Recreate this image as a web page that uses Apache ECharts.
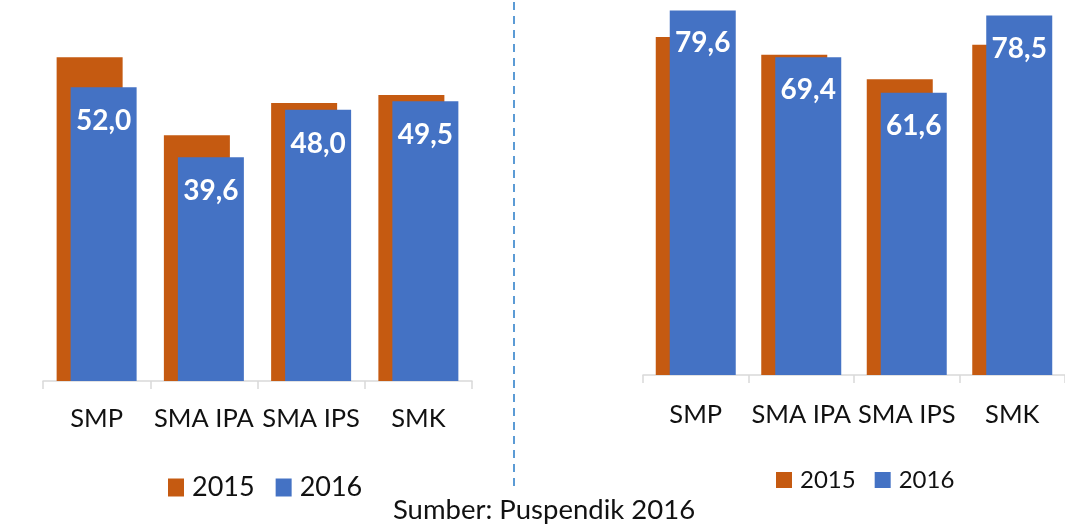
<!DOCTYPE html>
<html>
<head>
<meta charset="utf-8">
<script src="https://cdn.jsdelivr.net/npm/echarts@6/dist/echarts.min.js"></script>
<style>
html,body{margin:0;padding:0;background:#fff;}
#chart{width:1065px;height:527px;}
</style>
</head>
<body>
<div id="chart"></div>
<script>
const categories = ['SMP', 'SMA IPA', 'SMA IPS', 'SMK'];
const seriesNames = ['2015', '2016'];
const left2015 = [57.3, 43.5, 49.2, 50.6];
const left2016 = [52.0, 39.6, 48.0, 49.5];
const right2015 = [73.8, 69.9, 64.6, 72.1];
const right2016 = [79.6, 69.4, 61.6, 78.5];
const sourceText = 'Sumber: Puspendik 2016';

const ORANGE = '#C55A11';
const BLUE = '#4472C4';
const FONT = 'Lato';

const chart = echarts.init(document.getElementById('chart'), null, {renderer: 'canvas'});

function xAxisFor(gridIndex, margin) {
  return {
    type: 'category', gridIndex: gridIndex, data: categories,
    axisLine: {lineStyle: {color: '#D9D9D9', width: 1.5}},
    axisTick: {show: true, length: 8, lineStyle: {color: '#D9D9D9', width: 1.5}},
    axisLabel: {interval: 0, margin: margin, color: '#111', fontFamily: FONT, fontSize: 25.5}
  };
}
function yAxisFor(gridIndex, max) {
  return {
    type: 'value', gridIndex: gridIndex, min: 0, max: max,
    show: false, splitLine: {show: false}
  };
}
const labelFmt = p => p.value.toFixed(1).replace('.', ',');
function barSeries(name, data, idx, color, withLabel, dist) {
  return {
    type: 'bar', name: name, data: data, xAxisIndex: idx, yAxisIndex: idx,
    barWidth: 66, barGap: '-78.8%',
    itemStyle: {color: color},
    label: withLabel ? {
      show: true, position: 'insideTop', distance: dist, formatter: labelFmt,
      color: '#fff', fontWeight: 'bold', fontFamily: FONT, fontSize: 28, lineHeight: 28
    } : {show: false},
    emphasis: {disabled: true}
  };
}

const option = {
  animation: false,
  backgroundColor: '#fff',
  grid: [
    {left: 43, width: 429, top: 42, height: 339},
    {left: 643, width: 431, top: 8.6, height: 366.4}
  ],
  xAxis: [xAxisFor(0, 25), xAxisFor(1, 27)],
  yAxis: [yAxisFor(0, 60), yAxisFor(1, 80)],
  legend: [
    {
      data: seriesNames, left: 163, top: 469, icon: 'rect',
      itemWidth: 16, itemHeight: 18, itemGap: 21,
      textStyle: {fontFamily: FONT, fontSize: 27, color: '#111', padding: [0, 0, 0, 3]}
    },
    {
      data: seriesNames, left: 771, top: 463, icon: 'rect',
      itemWidth: 16, itemHeight: 16, itemGap: 19,
      textStyle: {fontFamily: FONT, fontSize: 24, color: '#111', padding: [0, 0, 0, 3]}
    }
  ],
  series: [
    barSeries(seriesNames[0], left2015, 0, ORANGE, false),
    barSeries(seriesNames[1], left2016, 0, BLUE, true, 20),
    barSeries(seriesNames[0], right2015, 1, ORANGE, false),
    barSeries(seriesNames[1], right2016, 1, BLUE, true, 19)
  ],
  graphic: [
    {
      type: 'line', shape: {x1: 514, y1: 2, x2: 514, y2: 490},
      style: {stroke: '#5B9BD5', lineWidth: 2, lineDash: [8, 6]}, silent: true
    },
    {
      type: 'text', x: 544, y: 510,
      style: {text: sourceText, fontFamily: FONT, fontSize: 27.5, fill: '#111',
              textAlign: 'center', textVerticalAlign: 'middle'}, silent: true
    }
  ]
};
chart.setOption(option);
</script>
</body>
</html>
